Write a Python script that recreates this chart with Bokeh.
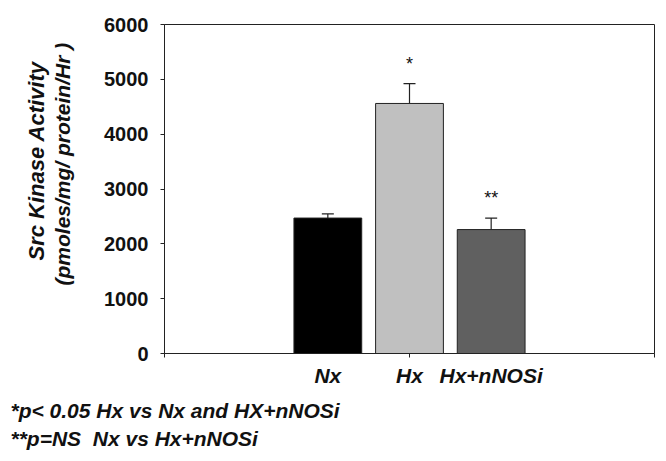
from bokeh.plotting import figure
from bokeh.models import (ColumnDataSource, FixedTicker, Label, Whisker, TeeHead,
                          Range1d, Title)
from bokeh.embed import file_html
from bokeh.resources import INLINE

# ---- data ----
categories = ["Nx", "Hx", "Hx+nNOSi"]
positions = [1, 2, 3]
activity = [2470, 4560, 2260]
sem = [75, 360, 210]
bar_colors = ["#000000", "#c0c0c0", "#606060"]
sig_marks = ["", "*", "**"]
y_ticks = [0, 1000, 2000, 3000, 4000, 5000, 6000]
footnotes = ["*p< 0.05 Hx vs Nx and HX+nNOSi", "**p=NS \u00a0Nx vs Hx+nNOSi"]
y_title = ["Src Kinase Activity", "(pmoles/mg/ protein/Hr )"]

FONT = "Liberation Sans"

p = figure(width=666, height=461, output_backend="svg", toolbar_location=None,
           x_range=Range1d(-1, 5), y_range=Range1d(0, 6000),
           min_border_left=164, min_border_right=12, min_border_top=24,
           min_border_bottom=108)
p.grid.visible = False
p.outline_line_color = "#222222"
p.outline_line_width = 1
p.background_fill_color = "white"
p.border_fill_color = "white"

src = ColumnDataSource(dict(x=positions, top=activity, color=bar_colors,
                            upper=[a + s for a, s in zip(activity, sem)]))
p.vbar(x="x", top="top", width=0.83, bottom=0, fill_color="color",
       line_color="#222222", line_width=1, source=src)

w = Whisker(base="x", lower="top", upper="upper", source=src,
            line_color="#222222", line_width=1.2,
            upper_head=TeeHead(size=12, line_color="#222222", line_width=1.2),
            lower_head=None)
p.add_layout(w)

# significance marks
for xp, top, e, mark in zip(positions, activity, sem, sig_marks):
    if mark:
        p.add_layout(Label(x=xp, y=top + e, text=mark, text_align="center",
                           text_baseline="bottom", y_offset=10,
                           text_font=FONT, text_font_size="18px",
                           text_color="#111111"))

# y axis
p.yaxis.ticker = FixedTicker(ticks=y_ticks)
p.yaxis.major_label_text_font = FONT
p.yaxis.major_label_text_font_style = "bold"
p.yaxis.major_label_text_font_size = "20px"
p.yaxis.major_label_text_color = "#111111"
p.yaxis.major_tick_out = 4
p.yaxis.major_tick_in = 0
p.yaxis.minor_tick_out = 0
p.yaxis.minor_tick_in = 0
p.yaxis.major_label_standoff = 12
p.yaxis.axis_line_color = "#222222"
p.yaxis.major_tick_line_color = "#222222"

# x axis: category labels, tick marks at frame ends and centre
p.xaxis.ticker = FixedTicker(ticks=positions, minor_ticks=[-1, 2, 5])
p.xaxis.major_label_overrides = {xp: c for xp, c in zip(positions, categories)}
p.xaxis.major_label_text_font = FONT
p.xaxis.major_label_text_font_style = "bold italic"
p.xaxis.major_label_text_font_size = "21px"
p.xaxis.major_label_text_color = "#111111"
p.xaxis.major_label_standoff = 6
p.xaxis.major_tick_out = 0
p.xaxis.major_tick_in = 0
p.xaxis.minor_tick_out = 4
p.xaxis.minor_tick_in = 0
p.xaxis.axis_line_color = "#222222"
p.xaxis.minor_tick_line_color = "#222222"

# spacer between tick labels and y title
p.add_layout(Title(text=" ", text_font_size="1px", standoff=25), "left")

# y axis title (two lines, nearest line first)
for i, line in enumerate(reversed(y_title)):
    t = Title(text=line, align="left", offset=68 if i == 0 else 93, standoff=0,
              text_font=FONT, text_font_style="bold italic",
              text_font_size="21px" if i == 0 else "22px", text_color="#111111")
    p.add_layout(t, "left")

# footnotes
for i, note in enumerate(footnotes):
    t = Title(text=note, align="left", offset=-154, standoff=14 if i == 0 else -8,
              text_font=FONT, text_font_style="bold italic",
              text_font_size="21px", text_color="#111111")
    p.add_layout(t, "below")

open("out.html", "w").write(file_html(p, INLINE))
